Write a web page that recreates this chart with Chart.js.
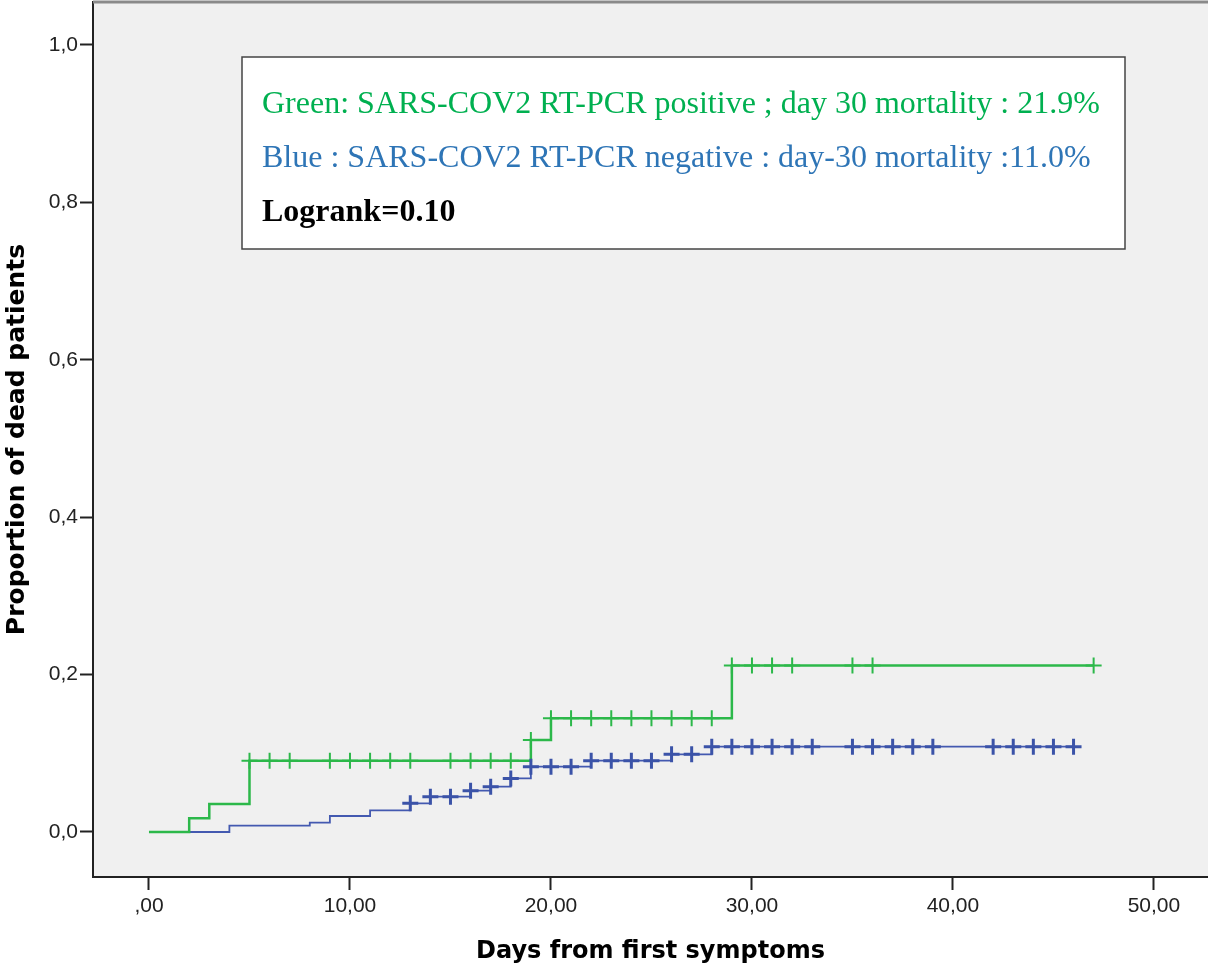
<!DOCTYPE html>
<html lang="en">
<head>
    <meta charset="UTF-8">
    <title>Kaplan-Meier: proportion of dead patients</title>
    <script src="https://cdn.jsdelivr.net/npm/chart.js"></script>
    <style>
        body { margin: 0; background: #fff; }
        .chart-wrap { width: 1208px; height: 966px; position: relative; }
    </style>
</head>
<body>
    <div class="chart-wrap">
        <canvas id="kmChart"></canvas>
    </div>

    <script>
        // Green = RT-PCR positive, Blue = RT-PCR negative (cumulative deaths)
        const greenTimes = [0, 2, 3, 5, 19, 20, 29, 47];
        const greenProps = [0, 0.0175, 0.0355, 0.0905, 0.117, 0.1445, 0.2115, 0.2115];
        const greenCensored = [5, 6, 7, 9, 10, 11, 12, 13, 15, 16, 17, 18, 19, 20, 21, 22, 23, 24, 25, 26, 27, 28, 29, 30, 31, 32, 35, 36, 47];

        const blueTimes = [0, 4, 8, 9, 11, 13, 14, 16, 17, 18, 19, 22, 26, 28, 46];
        const blueProps = [0, 0.008, 0.0118, 0.0203, 0.0275, 0.0364, 0.0449, 0.0525, 0.0576, 0.068, 0.083, 0.0906, 0.0987, 0.1084, 0.1084];
        const blueCensored = [13, 14, 15, 16, 17, 18, 19, 20, 21, 22, 23, 24, 25, 26, 27, 28, 29, 30, 31, 32, 33, 35, 36, 37, 38, 39, 42, 43, 44, 45, 46];

        const xTicks = [0, 10, 20, 30, 40, 50];
        const yTicks = [0, 0.2, 0.4, 0.6, 0.8, 1.0];

        const legendLines = [
            { text: 'Green: SARS-COV2 RT-PCR positive ; day 30 mortality : 21.9%', color: '#00b050', bold: false },
            { text: 'Blue : SARS-COV2 RT-PCR negative : day-30 mortality :11.0%', color: '#2e75b6', bold: false },
            { text: 'Logrank=0.10', color: '#000000', bold: true }
        ];

        // value of a step curve at time t
        function stepValue(times, props, t) {
            let v = props[0];
            for (let i = 0; i < times.length; i++) {
                if (times[i] <= t) v = props[i];
            }
            return v;
        }

        const toPoints = (times, props) => times.map((t, i) => ({ x: t, y: props[i] }));
        const censorPoints = (cens, times, props) => cens.map(t => ({ x: t, y: stepValue(times, props, t) }));

        // plot background, top border and the text box
        const frame = {
            id: 'frame',
            beforeDraw(chart) {
                const { ctx, chartArea: a } = chart;
                ctx.save();
                ctx.fillStyle = '#f0f0f0';
                ctx.fillRect(a.left, a.top, a.right - a.left, a.bottom - a.top);
                ctx.restore();
            },
            afterDraw(chart) {
                const { ctx, chartArea: a } = chart;
                ctx.save();
                ctx.strokeStyle = '#8a8a8a';
                ctx.lineWidth = 3;
                ctx.beginPath();
                ctx.moveTo(a.left, a.top);
                ctx.lineTo(a.right, a.top);
                ctx.stroke();

                // annotation box
                ctx.fillStyle = '#ffffff';
                ctx.fillRect(242, 57, 883, 192);
                ctx.strokeStyle = '#444';
                ctx.lineWidth = 1.5;
                ctx.strokeRect(242, 57, 883, 192);
                ctx.textBaseline = 'alphabetic';
                ctx.textAlign = 'left';
                legendLines.forEach((l, i) => {
                    ctx.font = (l.bold ? 'bold ' : '') + '32px "Liberation Serif", "Times New Roman", serif';
                    ctx.fillStyle = l.color;
                    ctx.fillText(l.text, 262, 113 + i * 54);
                });
                ctx.restore();
            }
        };

        const tickFont = { family: '"Liberation Sans", Arial, sans-serif', size: 21 };
        const titleFont = { family: '"DejaVu Sans", Verdana, sans-serif', size: 24, weight: 'bold' };

        new Chart(document.getElementById('kmChart'), {
            type: 'line',
            data: {
                datasets: [
                    {
                        label: 'positive censored',
                        type: 'scatter',
                        data: censorPoints(greenCensored, greenTimes, greenProps),
                        pointStyle: 'cross',
                        pointRadius: 8,
                        borderColor: '#2cb84a',
                        borderWidth: 2,
                        showLine: false,
                        order: 0
                    },
                    {
                        label: 'negative censored',
                        type: 'scatter',
                        data: censorPoints(blueCensored, blueTimes, blueProps),
                        pointStyle: 'cross',
                        pointRadius: 8,
                        borderColor: '#3b53a8',
                        borderWidth: 3,
                        showLine: false,
                        order: 0
                    },
                    {
                        label: 'RT-PCR positive',
                        data: toPoints(greenTimes, greenProps),
                        stepped: 'before',
                        borderColor: '#2cb84a',
                        borderWidth: 2.5,
                        pointRadius: 0,
                        fill: false,
                        order: 1
                    },
                    {
                        label: 'RT-PCR negative',
                        data: toPoints(blueTimes, blueProps),
                        stepped: 'before',
                        borderColor: '#4359b0',
                        borderWidth: 1.8,
                        pointRadius: 0,
                        fill: false,
                        order: 2
                    }
                ]
            },
            options: {
                responsive: true,
                maintainAspectRatio: false,
                animation: false,
                layout: { autoPadding: false, padding: { top: 2, right: 0, left: 0, bottom: 0 } },
                plugins: {
                    legend: { display: false },
                    tooltip: { enabled: false }
                },
                scales: {
                    x: {
                        type: 'linear',
                        min: -2.786,
                        max: 52.69,
                        afterBuildTicks: s => { s.ticks = xTicks.map(v => ({ value: v })); },
                        afterFit: s => { s.height = 89; s.paddingLeft = 0; s.paddingRight = 0; },
                        ticks: {
                            font: tickFont,
                            color: '#222',
                            padding: 4,
                            maxRotation: 0,
                            callback: v => v === 0 ? ',00' : v.toFixed(2).replace('.', ',')
                        },
                        grid: { drawOnChartArea: false, drawTicks: true, tickLength: 13, tickWidth: 2, tickColor: '#222' },
                        border: { display: true, color: '#222', width: 2 },
                        title: {
                            display: true,
                            text: 'Days from first symptoms',
                            font: titleFont,
                            color: '#000',
                            padding: { top: 0, bottom: 0 }
                        }
                    },
                    y: {
                        type: 'linear',
                        min: -0.0572,
                        max: 1.0546,
                        afterBuildTicks: s => { s.ticks = yTicks.map(v => ({ value: v })); },
                        afterFit: s => { s.width = 93; s.paddingTop = 0; s.paddingBottom = 0; },
                        ticks: {
                            font: tickFont,
                            color: '#222',
                            padding: 2,
                            callback: v => v.toFixed(1).replace('.', ',')
                        },
                        grid: { drawOnChartArea: false, drawTicks: true, tickLength: 13, tickWidth: 2, tickColor: '#222' },
                        border: { display: true, color: '#222', width: 2 },
                        title: {
                            display: true,
                            text: 'Proportion of dead patients',
                            font: { family: '"DejaVu Sans", Verdana, sans-serif', size: 25, weight: 'bold' },
                            color: '#000',
                            padding: { top: 2, bottom: 0 }
                        }
                    }
                }
            },
            plugins: [frame]
        });
    </script>
</body>
</html>
